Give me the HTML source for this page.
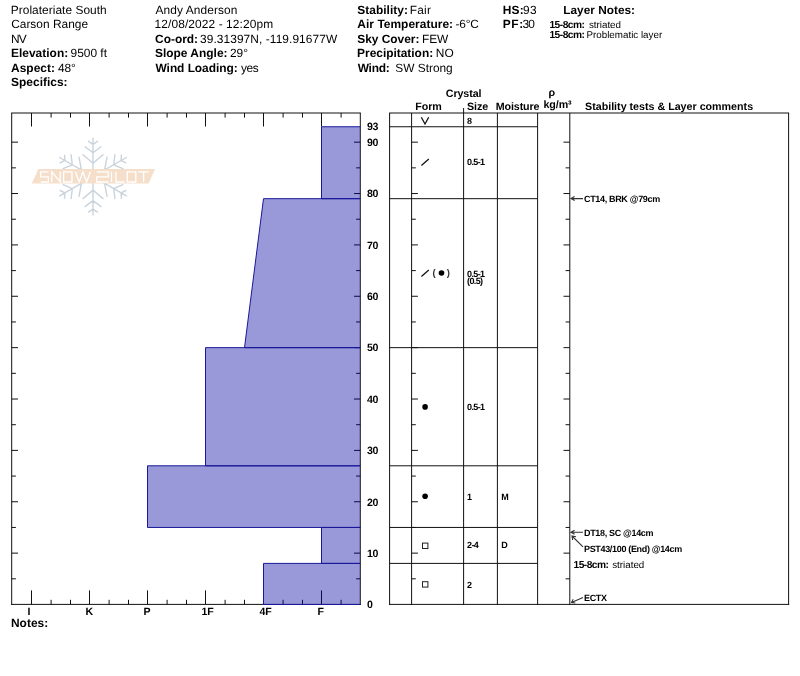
<!DOCTYPE html>
<html><head><meta charset="utf-8"><title>Snow Pit Profile</title>
<style>
html,body{margin:0;padding:0;background:#fff;}
body{width:800px;height:676px;overflow:hidden;position:relative;font-family:"Liberation Sans",sans-serif;color:#000;}
svg{position:absolute;left:0;top:0;will-change:transform;transform:translateZ(0);}
text{font-family:"Liberation Sans",sans-serif;fill:#000;text-rendering:geometricPrecision;}
.h{font-size:11.92px;}
.b{font-weight:bold;}
.h .b{font-size:11.95px;}
.ax{font-size:10.6px;font-weight:bold;letter-spacing:-0.3px;}
.th{font-size:10.7px;font-weight:bold;letter-spacing:-0.1px;}
.c{font-size:9px;font-weight:bold;letter-spacing:-0.33px;}
.n{font-size:9.8px;}
.n .b{font-size:10.2px;}
.z{letter-spacing:-0.62px;}
.l{stroke:#111;stroke-width:1;fill:none;}
</style></head><body>
<svg width="800" height="676" viewBox="0 0 800 676">
<text x="10.79" y="13.5" textLength="95.86" lengthAdjust="spacing" style="font-size:11.92px;">Prolateriate South</text>
<text x="11.14" y="28" textLength="76.90" lengthAdjust="spacing" style="font-size:11.92px;">Carson Range</text>
<text x="10.96" y="42.5" textLength="15.78" lengthAdjust="spacing" style="font-size:11.92px;">NV</text>
<text x="11.03" y="57" textLength="57.13" lengthAdjust="spacing" style="font-size:11.95px;font-weight:bold">Elevation:</text>
<text x="70.50" y="57" textLength="36.51" lengthAdjust="spacing" style="font-size:11.92px;">9500 ft</text>
<text x="11.11" y="71.5" textLength="43.77" lengthAdjust="spacing" style="font-size:11.95px;font-weight:bold">Aspect:</text>
<text x="58.08" y="71.5" textLength="17.79" lengthAdjust="spacing" style="font-size:11.92px;">48°</text>
<text x="11.09" y="86" textLength="56.43" lengthAdjust="spacing" style="font-size:11.95px;font-weight:bold">Specifics:</text>
<text x="155.46" y="13.5" textLength="81.92" lengthAdjust="spacing" style="font-size:11.92px;">Andy Anderson</text>
<text x="154.59" y="28" textLength="118.49" lengthAdjust="spacing" style="font-size:11.92px;">12/08/2022 - 12:20pm</text>
<text x="155.10" y="42.5" textLength="42.99" lengthAdjust="spacing" style="font-size:11.95px;font-weight:bold">Co-ord:</text>
<text x="200.03" y="42.5" textLength="137.12" lengthAdjust="spacing" style="font-size:11.92px;">39.31397N, -119.91677W</text>
<text x="154.91" y="57" textLength="72.61" lengthAdjust="spacing" style="font-size:11.95px;font-weight:bold">Slope Angle:</text>
<text x="229.96" y="57" textLength="18.02" lengthAdjust="spacing" style="font-size:11.92px;">29°</text>
<text x="155.50" y="71.5" textLength="82.16" lengthAdjust="spacing" style="font-size:11.95px;font-weight:bold">Wind Loading:</text>
<text x="240.99" y="71.5" textLength="17.76" lengthAdjust="spacing" style="font-size:11.92px;">yes</text>
<text x="357.26" y="13.5" textLength="50.66" lengthAdjust="spacing" style="font-size:11.95px;font-weight:bold">Stability:</text>
<text x="409.68" y="13.5" textLength="21.27" lengthAdjust="spacing" style="font-size:11.92px;">Fair</text>
<text x="357.35" y="28" textLength="95.74" lengthAdjust="spacing" style="font-size:11.95px;font-weight:bold">Air Temperature:</text>
<text x="455.58" y="28" textLength="23.22" lengthAdjust="spacing" style="font-size:11.92px;">-6°C</text>
<text x="357.26" y="42.5" textLength="62.10" lengthAdjust="spacing" style="font-size:11.95px;font-weight:bold">Sky Cover:</text>
<text x="422.09" y="42.5" textLength="26.04" lengthAdjust="spacing" style="font-size:11.92px;">FEW</text>
<text x="357.06" y="57" textLength="76.10" lengthAdjust="spacing" style="font-size:11.95px;font-weight:bold">Precipitation:</text>
<text x="435.68" y="57" textLength="17.98" lengthAdjust="spacing" style="font-size:11.92px;">NO</text>
<text x="357.72" y="71.5" textLength="31.96" lengthAdjust="spacing" style="font-size:11.95px;font-weight:bold">Wind:</text>
<text x="395.36" y="71.5" textLength="57.33" lengthAdjust="spacing" style="font-size:11.92px;">SW Strong</text>
<text x="502.76" y="13.5" textLength="20.91" lengthAdjust="spacing" style="font-size:11.95px;font-weight:bold">HS:</text>
<text x="523.03" y="13.5" textLength="13.65" lengthAdjust="spacing" style="font-size:11.92px;">93</text>
<text x="502.76" y="28" textLength="20.38" lengthAdjust="spacing" style="font-size:11.95px;font-weight:bold">PF:</text>
<text x="522.50" y="28" textLength="12.28" lengthAdjust="spacing" style="font-size:11.92px;">30</text>
<text x="563.28" y="13.5" textLength="71.74" lengthAdjust="spacing" style="font-size:11.8px;font-weight:bold">Layer Notes:</text>
<text y="27.8" class="n"><tspan x="549.4" class="b" textLength="35.6" lengthAdjust="spacing">15-8cm:</tspan><tspan x="588.9">striated</tspan></text>
<text y="38.4" class="n"><tspan x="549.4" class="b" textLength="35.6" lengthAdjust="spacing">15-8cm:</tspan><tspan x="586.5">Problematic layer</tspan></text>
<line x1="11.7" y1="113.0" x2="11.7" y2="604.9" class="l" />
<line x1="360.3" y1="113.0" x2="360.3" y2="604.9" class="l" />
<line x1="11.2" y1="113.0" x2="360.8" y2="113.0" class="l" />
<line x1="11.2" y1="604.4" x2="360.8" y2="604.4" class="l" />
<line x1="31.5" y1="113.0" x2="31.5" y2="126.5" class="l" />
<line x1="31.5" y1="604.4" x2="31.5" y2="590.4" class="l" />
<line x1="51.1" y1="113.0" x2="51.1" y2="117.6" class="l" />
<line x1="51.1" y1="604.4" x2="51.1" y2="599.8" class="l" />
<line x1="70.5" y1="113.0" x2="70.5" y2="117.6" class="l" />
<line x1="70.5" y1="604.4" x2="70.5" y2="599.8" class="l" />
<line x1="89.5" y1="113.0" x2="89.5" y2="126.5" class="l" />
<line x1="89.5" y1="604.4" x2="89.5" y2="590.4" class="l" />
<line x1="109.1" y1="113.0" x2="109.1" y2="117.6" class="l" />
<line x1="109.1" y1="604.4" x2="109.1" y2="599.8" class="l" />
<line x1="128.5" y1="113.0" x2="128.5" y2="117.6" class="l" />
<line x1="128.5" y1="604.4" x2="128.5" y2="599.8" class="l" />
<line x1="147.5" y1="113.0" x2="147.5" y2="126.5" class="l" />
<line x1="147.5" y1="604.4" x2="147.5" y2="590.4" class="l" />
<line x1="167.1" y1="113.0" x2="167.1" y2="117.6" class="l" />
<line x1="167.1" y1="604.4" x2="167.1" y2="599.8" class="l" />
<line x1="186.5" y1="113.0" x2="186.5" y2="117.6" class="l" />
<line x1="186.5" y1="604.4" x2="186.5" y2="599.8" class="l" />
<line x1="205.5" y1="113.0" x2="205.5" y2="126.5" class="l" />
<line x1="205.5" y1="604.4" x2="205.5" y2="590.4" class="l" />
<line x1="225.1" y1="113.0" x2="225.1" y2="117.6" class="l" />
<line x1="225.1" y1="604.4" x2="225.1" y2="599.8" class="l" />
<line x1="244.5" y1="113.0" x2="244.5" y2="117.6" class="l" />
<line x1="244.5" y1="604.4" x2="244.5" y2="599.8" class="l" />
<line x1="263.5" y1="113.0" x2="263.5" y2="126.5" class="l" />
<line x1="263.5" y1="604.4" x2="263.5" y2="590.4" class="l" />
<line x1="283.1" y1="113.0" x2="283.1" y2="117.6" class="l" />
<line x1="283.1" y1="604.4" x2="283.1" y2="599.8" class="l" />
<line x1="302.5" y1="113.0" x2="302.5" y2="117.6" class="l" />
<line x1="302.5" y1="604.4" x2="302.5" y2="599.8" class="l" />
<line x1="321.5" y1="113.0" x2="321.5" y2="126.5" class="l" />
<line x1="321.5" y1="604.4" x2="321.5" y2="590.4" class="l" />
<line x1="341.1" y1="113.0" x2="341.1" y2="117.6" class="l" />
<line x1="341.1" y1="604.4" x2="341.1" y2="599.8" class="l" />
<line x1="11.7" y1="578.815" x2="15.899999999999999" y2="578.815" class="l" />
<line x1="360.3" y1="578.815" x2="356.1" y2="578.815" class="l" />
<line x1="411.6" y1="578.815" x2="415.8" y2="578.815" class="l" />
<line x1="569.8" y1="578.815" x2="565.5999999999999" y2="578.815" class="l" />
<line x1="11.7" y1="553.13" x2="18.0" y2="553.13" class="l" />
<line x1="360.3" y1="553.13" x2="354.0" y2="553.13" class="l" />
<line x1="411.6" y1="553.13" x2="417.90000000000003" y2="553.13" class="l" />
<line x1="569.8" y1="553.13" x2="563.5" y2="553.13" class="l" />
<line x1="11.7" y1="527.445" x2="15.899999999999999" y2="527.445" class="l" />
<line x1="360.3" y1="527.445" x2="356.1" y2="527.445" class="l" />
<line x1="411.6" y1="527.445" x2="415.8" y2="527.445" class="l" />
<line x1="569.8" y1="527.445" x2="565.5999999999999" y2="527.445" class="l" />
<line x1="11.7" y1="501.76" x2="18.0" y2="501.76" class="l" />
<line x1="360.3" y1="501.76" x2="354.0" y2="501.76" class="l" />
<line x1="411.6" y1="501.76" x2="417.90000000000003" y2="501.76" class="l" />
<line x1="569.8" y1="501.76" x2="563.5" y2="501.76" class="l" />
<line x1="11.7" y1="476.07500000000005" x2="15.899999999999999" y2="476.07500000000005" class="l" />
<line x1="360.3" y1="476.07500000000005" x2="356.1" y2="476.07500000000005" class="l" />
<line x1="411.6" y1="476.07500000000005" x2="415.8" y2="476.07500000000005" class="l" />
<line x1="569.8" y1="476.07500000000005" x2="565.5999999999999" y2="476.07500000000005" class="l" />
<line x1="11.7" y1="450.39" x2="18.0" y2="450.39" class="l" />
<line x1="360.3" y1="450.39" x2="354.0" y2="450.39" class="l" />
<line x1="411.6" y1="450.39" x2="417.90000000000003" y2="450.39" class="l" />
<line x1="569.8" y1="450.39" x2="563.5" y2="450.39" class="l" />
<line x1="11.7" y1="424.70500000000004" x2="15.899999999999999" y2="424.70500000000004" class="l" />
<line x1="360.3" y1="424.70500000000004" x2="356.1" y2="424.70500000000004" class="l" />
<line x1="411.6" y1="424.70500000000004" x2="415.8" y2="424.70500000000004" class="l" />
<line x1="569.8" y1="424.70500000000004" x2="565.5999999999999" y2="424.70500000000004" class="l" />
<line x1="11.7" y1="399.02" x2="18.0" y2="399.02" class="l" />
<line x1="360.3" y1="399.02" x2="354.0" y2="399.02" class="l" />
<line x1="411.6" y1="399.02" x2="417.90000000000003" y2="399.02" class="l" />
<line x1="569.8" y1="399.02" x2="563.5" y2="399.02" class="l" />
<line x1="11.7" y1="373.33500000000004" x2="15.899999999999999" y2="373.33500000000004" class="l" />
<line x1="360.3" y1="373.33500000000004" x2="356.1" y2="373.33500000000004" class="l" />
<line x1="411.6" y1="373.33500000000004" x2="415.8" y2="373.33500000000004" class="l" />
<line x1="569.8" y1="373.33500000000004" x2="565.5999999999999" y2="373.33500000000004" class="l" />
<line x1="11.7" y1="347.65000000000003" x2="18.0" y2="347.65000000000003" class="l" />
<line x1="360.3" y1="347.65000000000003" x2="354.0" y2="347.65000000000003" class="l" />
<line x1="411.6" y1="347.65000000000003" x2="417.90000000000003" y2="347.65000000000003" class="l" />
<line x1="569.8" y1="347.65000000000003" x2="563.5" y2="347.65000000000003" class="l" />
<line x1="11.7" y1="321.96500000000003" x2="15.899999999999999" y2="321.96500000000003" class="l" />
<line x1="360.3" y1="321.96500000000003" x2="356.1" y2="321.96500000000003" class="l" />
<line x1="411.6" y1="321.96500000000003" x2="415.8" y2="321.96500000000003" class="l" />
<line x1="569.8" y1="321.96500000000003" x2="565.5999999999999" y2="321.96500000000003" class="l" />
<line x1="11.7" y1="296.28000000000003" x2="18.0" y2="296.28000000000003" class="l" />
<line x1="360.3" y1="296.28000000000003" x2="354.0" y2="296.28000000000003" class="l" />
<line x1="411.6" y1="296.28000000000003" x2="417.90000000000003" y2="296.28000000000003" class="l" />
<line x1="569.8" y1="296.28000000000003" x2="563.5" y2="296.28000000000003" class="l" />
<line x1="11.7" y1="270.595" x2="15.899999999999999" y2="270.595" class="l" />
<line x1="360.3" y1="270.595" x2="356.1" y2="270.595" class="l" />
<line x1="411.6" y1="270.595" x2="415.8" y2="270.595" class="l" />
<line x1="569.8" y1="270.595" x2="565.5999999999999" y2="270.595" class="l" />
<line x1="11.7" y1="244.91000000000003" x2="18.0" y2="244.91000000000003" class="l" />
<line x1="360.3" y1="244.91000000000003" x2="354.0" y2="244.91000000000003" class="l" />
<line x1="411.6" y1="244.91000000000003" x2="417.90000000000003" y2="244.91000000000003" class="l" />
<line x1="569.8" y1="244.91000000000003" x2="563.5" y2="244.91000000000003" class="l" />
<line x1="11.7" y1="219.22500000000002" x2="15.899999999999999" y2="219.22500000000002" class="l" />
<line x1="360.3" y1="219.22500000000002" x2="356.1" y2="219.22500000000002" class="l" />
<line x1="411.6" y1="219.22500000000002" x2="415.8" y2="219.22500000000002" class="l" />
<line x1="569.8" y1="219.22500000000002" x2="565.5999999999999" y2="219.22500000000002" class="l" />
<line x1="11.7" y1="193.54000000000002" x2="18.0" y2="193.54000000000002" class="l" />
<line x1="360.3" y1="193.54000000000002" x2="354.0" y2="193.54000000000002" class="l" />
<line x1="411.6" y1="193.54000000000002" x2="417.90000000000003" y2="193.54000000000002" class="l" />
<line x1="569.8" y1="193.54000000000002" x2="563.5" y2="193.54000000000002" class="l" />
<line x1="11.7" y1="167.85500000000002" x2="15.899999999999999" y2="167.85500000000002" class="l" />
<line x1="360.3" y1="167.85500000000002" x2="356.1" y2="167.85500000000002" class="l" />
<line x1="411.6" y1="167.85500000000002" x2="415.8" y2="167.85500000000002" class="l" />
<line x1="569.8" y1="167.85500000000002" x2="565.5999999999999" y2="167.85500000000002" class="l" />
<line x1="11.7" y1="142.17000000000002" x2="18.0" y2="142.17000000000002" class="l" />
<line x1="360.3" y1="142.17000000000002" x2="354.0" y2="142.17000000000002" class="l" />
<line x1="411.6" y1="142.17000000000002" x2="417.90000000000003" y2="142.17000000000002" class="l" />
<line x1="569.8" y1="142.17000000000002" x2="563.5" y2="142.17000000000002" class="l" />
<polygon points="321.5,126.76 360,126.76 360,198.68 321.5,198.68" fill="rgba(0,0,160,0.4)"/>
<path d="M360.3,126.76L321.5,126.76L321.5,198.68L360.3,198.68" fill="none" stroke="#181898" stroke-width="1"/>
<polygon points="263.5,198.68 360,198.68 360,347.65 244.5,347.65" fill="rgba(0,0,160,0.4)"/>
<path d="M360.3,198.68L263.5,198.68L244.5,347.65L360.3,347.65" fill="none" stroke="#181898" stroke-width="1"/>
<polygon points="205.5,347.65 360,347.65 360,465.80 205.5,465.80" fill="rgba(0,0,160,0.4)"/>
<path d="M360.3,347.65L205.5,347.65L205.5,465.80L360.3,465.80" fill="none" stroke="#181898" stroke-width="1"/>
<polygon points="147.5,465.80 360,465.80 360,527.45 147.5,527.45" fill="rgba(0,0,160,0.4)"/>
<path d="M360.3,465.80L147.5,465.80L147.5,527.45L360.3,527.45" fill="none" stroke="#181898" stroke-width="1"/>
<polygon points="321.5,527.45 360,527.45 360,563.40 321.5,563.40" fill="rgba(0,0,160,0.4)"/>
<path d="M360.3,527.45L321.5,527.45L321.5,563.40L360.3,563.40" fill="none" stroke="#181898" stroke-width="1"/>
<polygon points="263.5,563.40 360,563.40 360,604.50 263.5,604.50" fill="rgba(0,0,160,0.4)"/>
<path d="M360.3,563.40L263.5,563.40L263.5,604.50L360.3,604.50" fill="none" stroke="#181898" stroke-width="1"/>
<text x="27.6" y="615" class="ax">I</text>
<text x="85.6" y="615" class="ax">K</text>
<text x="143.6" y="615" class="ax">P</text>
<text x="201.6" y="615" class="ax">1F</text>
<text x="259.6" y="615" class="ax">4F</text>
<text x="317.6" y="615" class="ax">F</text>
<text x="367" y="129.8" class="ax">93</text>
<text x="367" y="145.9" class="ax">90</text>
<text x="367" y="197.2" class="ax">80</text>
<text x="367" y="248.6" class="ax">70</text>
<text x="367" y="300.0" class="ax">60</text>
<text x="367" y="351.4" class="ax">50</text>
<text x="367" y="402.7" class="ax">40</text>
<text x="367" y="454.1" class="ax">30</text>
<text x="367" y="505.5" class="ax">20</text>
<text x="367" y="556.8" class="ax">10</text>
<text x="367" y="608.2" class="ax">0</text>
<text x="11" y="627" class="h" xml:space="preserve"><tspan class="b">Notes:</tspan></text>
<line x1="389.1" y1="113.0" x2="789.1" y2="113.0" class="l" />
<line x1="389.1" y1="604.4" x2="789.1" y2="604.4" class="l" />
<line x1="389.6" y1="113.0" x2="389.6" y2="604.9" class="l" />
<line x1="411.6" y1="113.0" x2="411.6" y2="604.9" class="l" />
<line x1="463.6" y1="108.0" x2="463.6" y2="604.9" class="l" />
<line x1="497.4" y1="113.0" x2="497.4" y2="604.9" class="l" />
<line x1="537.6" y1="113.0" x2="537.6" y2="604.9" class="l" />
<line x1="569.8" y1="113.0" x2="569.8" y2="604.9" class="l" />
<line x1="788.6" y1="113.0" x2="788.6" y2="604.9" class="l" />
<line x1="389.6" y1="126.75900000000001" x2="537.6" y2="126.75900000000001" class="l" />
<line x1="389.6" y1="198.67700000000002" x2="537.6" y2="198.67700000000002" class="l" />
<line x1="389.6" y1="347.65000000000003" x2="537.6" y2="347.65000000000003" class="l" />
<line x1="389.6" y1="465.80100000000004" x2="537.6" y2="465.80100000000004" class="l" />
<line x1="389.6" y1="527.445" x2="537.6" y2="527.445" class="l" />
<line x1="389.6" y1="563.404" x2="537.6" y2="563.404" class="l" />
<text x="463.6" y="97.2" class="th" text-anchor="middle">Crystal</text>
<text x="415.3" y="109.6" class="th">Form</text>
<text x="467" y="109.6" class="th">Size</text>
<text x="495.7" y="109.6" class="th">Moisture</text>
<text x="548.5" y="96" class="th">ρ</text>
<text x="543.5" y="108" class="th">kg/m³</text>
<text x="585" y="109.7" class="th" style="letter-spacing:0">Stability tests &amp; Layer comments</text>
<text x="467" y="123.5" class="c z">8</text>
<text x="467" y="165.3" class="c z">0.5-1</text>
<text x="467" y="276.6" class="c z">0.5-1</text>
<text x="467" y="283.8" class="c z">(0.5)</text>
<text x="467" y="409.7" class="c z">0.5-1</text>
<text x="467" y="499.7" class="c z">1</text>
<text x="467" y="548.4" class="c z">2-4</text>
<text x="467" y="587.7" class="c z">2</text>
<text x="501.3" y="499.6" class="c">M</text>
<text x="501.3" y="548.3" class="c">D</text>
<path d="M421.3,117.3 L425,124 L428.7,117.3" stroke="#111" stroke-width="1.3" fill="none"/>
<path d="M421.4,165.4 L428.8,159" stroke="#111" stroke-width="1.3" fill="none"/>
<path d="M421.4,276.4 L428.8,270" stroke="#111" stroke-width="1.3" fill="none"/>
<text x="432.6" y="276.3" style="font-size:9.5px;font-weight:bold;fill:#333">(</text><text x="446.8" y="276.3" style="font-size:9.5px;font-weight:bold;fill:#333">)</text>
<circle cx="441.5" cy="273" r="2.8"/>
<circle cx="425.1" cy="406.9" r="2.8"/>
<circle cx="425.1" cy="496.3" r="2.8"/>
<rect x="422.5" y="543.1" width="5.4" height="5.4" stroke="#222" stroke-width="1" fill="none"/>
<rect x="422.5" y="581.7" width="5.4" height="5.4" stroke="#222" stroke-width="1" fill="none"/>
<path d="M571,198.6 H583 M574.6,196.6 L571,198.6 L574.6,200.6" stroke="#333" stroke-width="1.1" fill="none"/>
<text x="584" y="201.5" class="c">CT14, BRK @79cm</text>
<path d="M571,532.3 H583 M574.6,530.3 L571,532.3 L574.6,534.3" stroke="#333" stroke-width="1.1" fill="none"/>
<text x="584" y="536" class="c">DT18, SC @14cm</text>
<path d="M572,536 L583,546.8 M572.6,540 L572,536 L576,536.8" stroke="#333" stroke-width="1.1" fill="none"/>
<text x="584" y="552" class="c">PST43/100 (End) @14cm</text>
<text y="568" class="n"><tspan x="573.6" class="b" textLength="35.2" lengthAdjust="spacing">15-8cm:</tspan><tspan x="612.2">striated</tspan></text>
<path d="M571.5,602.6 L583,597.5 M573.2,599.3 L571.5,602.6 L575.3,603" stroke="#333" stroke-width="1.1" fill="none"/>
<text x="584" y="600.8" class="c">ECTX</text>
<g id="logo">
<path d="M93.0,170.7L93.0,138.3M93.0,163.3L83.0,154.8M93.0,163.3L103.0,154.8M93.0,152.8L85.0,146.8M93.0,152.8L101.0,146.8M93.0,144.3L88.5,141.3M93.0,144.3L97.5,141.3M98.2,173.7L126.3,157.5M104.6,170.0L107.0,157.1M104.6,170.0L117.0,174.4M113.7,164.8L114.9,154.8M113.7,164.8L122.9,168.7M121.1,160.5L121.4,155.1M121.1,160.5L125.9,162.9M98.2,179.7L126.3,195.9M104.6,183.4L117.0,179.0M104.6,183.4L107.0,196.3M113.7,188.6L122.9,184.7M113.7,188.6L114.9,198.6M121.1,192.9L125.9,190.5M121.1,192.9L121.4,198.3M93.0,182.7L93.0,215.1M93.0,190.1L103.0,198.6M93.0,190.1L83.0,198.6M93.0,200.6L101.0,206.6M93.0,200.6L85.0,206.6M93.0,209.1L97.5,212.1M93.0,209.1L88.5,212.1M87.8,179.7L59.7,195.9M81.4,183.4L79.0,196.3M81.4,183.4L69.0,179.0M72.3,188.7L71.1,198.6M72.3,188.7L63.1,184.7M64.9,192.9L64.6,198.3M64.9,192.9L60.1,190.5M87.8,173.7L59.7,157.5M81.4,170.0L69.0,174.4M81.4,170.0L79.0,157.1M72.3,164.8L63.1,168.7M72.3,164.8L71.1,154.8M64.9,160.5L60.1,162.9M64.9,160.5L64.6,155.1" stroke="#cad4dd" stroke-width="1.4" fill="none" stroke-linecap="round"/>
<polygon points="38.3,169 155,169 148.6,183.5 31.8,183.5" fill="#f5dfcb"/>
<path d="M48.4,171.8H40.8V176.9H48.4V182.0H40.8M51.8,182.0V171.8L60.2,182.0V171.8M63.6,171.8H72V182.0H63.6ZM75.4,171.8L79.2,182.0L82.9,171.8L86.6,182.0L90.4,171.8M96.7,171.8H108.2V176.9H96.7V182.0H108.2M111.5,171.8V182.0M115.9,171.8V182.0H124.5M127.3,171.8H135.8V182.0H127.3ZM138.3,171.8H149M143.6,171.8V182.0" stroke="#fff" stroke-width="1.3" fill="none" stroke-linejoin="miter"/>
</g>
</svg></body></html>
